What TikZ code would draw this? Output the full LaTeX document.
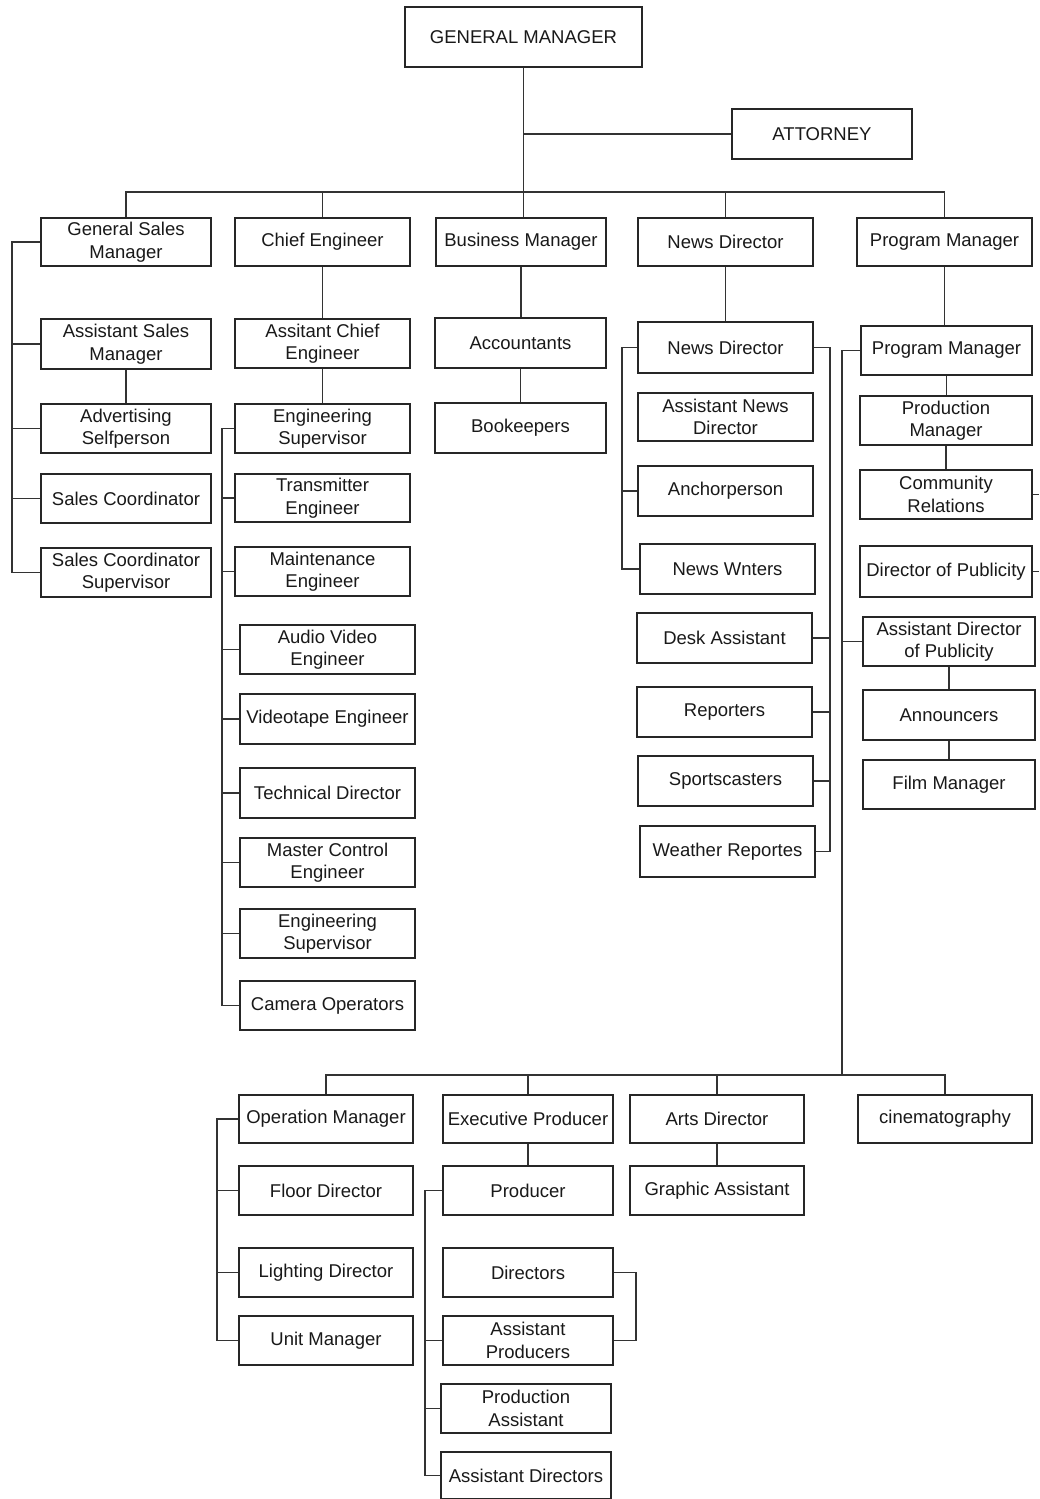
\documentclass[tikz,border=0pt]{standalone}
\usepackage{fontspec}
\setmainfont{Liberation Sans}
\begin{document}
\begin{tikzpicture}[x=1pt,y=-1pt,
  box/.style={draw=black!85, line width=1.8pt, fill=white, align=center, inner sep=0pt,
    font=\fontsize{18.5}{22.5}\selectfont, text=black!90},
  ln/.style={draw=black!80, line width=1.8pt}]
\useasboundingbox[fill=white] (0,0) rectangle (1039,1499);
% top
\node[box,minimum width=237,minimum height=60] (gm) at (523.5,37) {GENERAL MANAGER};
\node[box,minimum width=180,minimum height=50] (att) at (822,134) {ATTORNEY};
% row 1
\node[box,minimum width=170,minimum height=48] (gsm) at (126,242) {General Sales\\Manager};
\node[box,minimum width=175,minimum height=48] (ce) at (322.5,242) {Chief Engineer};
\node[box,minimum width=170,minimum height=48] (bm) at (521,242) {Business Manager};
\node[box,minimum width=175,minimum height=48] (nd1) at (725.5,242) {News Director};
\node[box,minimum width=175,minimum height=48] (pm1) at (944.5,242) {Program Manager};
% sales
\node[box,minimum width=170,minimum height=50] (asm) at (126,344) {Assistant Sales\\Manager};
\node[box,minimum width=170,minimum height=49] (adv) at (126,428.5) {Advertising\\Selfperson};
\node[box,minimum width=170,minimum height=49] (sc) at (126,498.5) {Sales Coordinator};
\node[box,minimum width=170,minimum height=49] (scs) at (126,572.5) {Sales Coordinator\\Supervisor};
% engineering
\node[box,minimum width=175,minimum height=49] (ace) at (322.5,343.5) {Assitant Chief\\Engineer};
\node[box,minimum width=175,minimum height=49] (es1) at (322.5,428.5) {Engineering\\Supervisor};
\node[box,minimum width=175,minimum height=48] (te) at (322.5,498) {Transmitter\\Engineer};
\node[box,minimum width=175,minimum height=49] (me) at (322.5,571.5) {Maintenance\\Engineer};
\node[box,minimum width=175,minimum height=49] (ave) at (327.5,649.5) {Audio Video\\Engineer};
\node[box,minimum width=175,minimum height=50] (vte) at (327.5,719) {Videotape Engineer};
\node[box,minimum width=175,minimum height=50] (td) at (327.5,793) {Technical Director};
\node[box,minimum width=175,minimum height=49] (mce) at (327.5,862.5) {Master Control\\Engineer};
\node[box,minimum width=175,minimum height=49] (es2) at (327.5,933.5) {Engineering\\Supervisor};
\node[box,minimum width=175,minimum height=49] (co) at (327.5,1005.5) {Camera Operators};
% business
\node[box,minimum width=171,minimum height=50] (acc) at (520.5,343) {Accountants};
\node[box,minimum width=171,minimum height=50] (bk) at (520.5,428) {Bookeepers};
% news
\node[box,minimum width=175,minimum height=51] (nd2) at (725.5,347.5) {News Director};
\node[box,minimum width=175,minimum height=48] (and) at (725.5,417) {Assistant News\\Director};
\node[box,minimum width=175,minimum height=50] (anc) at (725.5,491) {Anchorperson};
\node[box,minimum width=175,minimum height=50] (nw) at (727.5,569) {News Wnters};
\node[box,minimum width=175,minimum height=50] (da) at (724.5,638) {Desk Assistant};
\node[box,minimum width=175,minimum height=50] (rep) at (724.5,712) {Reporters};
\node[box,minimum width=175,minimum height=50] (spc) at (725.5,781) {Sportscasters};
\node[box,minimum width=175,minimum height=51] (wr) at (727.5,851.5) {Weather Reportes};
% program
\node[box,minimum width=171,minimum height=49] (pm2) at (946.5,350.5) {Program Manager};
\node[box,minimum width=172,minimum height=49] (prm) at (946,420.5) {Production\\Manager};
\node[box,minimum width=172,minimum height=49] (cr) at (946,494.5) {Community\\Relations};
\node[box,minimum width=172,minimum height=51] (dp) at (946,571.5) {Director of Publicity};
\node[box,minimum width=172,minimum height=49] (adp) at (949,641.5) {Assistant Director\\of Publicity};
\node[box,minimum width=172,minimum height=50] (ann) at (949,715) {Announcers};
\node[box,minimum width=172,minimum height=49] (fm) at (949,784.5) {Film Manager};
% bottom
\node[box,minimum width=174,minimum height=48] (om) at (326,1119) {Operation Manager};
\node[box,minimum width=170,minimum height=48] (ep) at (528,1119) {Executive Producer};
\node[box,minimum width=174,minimum height=48] (ad) at (717,1119) {Arts Director};
\node[box,minimum width=174,minimum height=48] (cin) at (945,1119) {cinematography};
\node[box,minimum width=174,minimum height=49] (fd) at (326,1190.5) {Floor Director};
\node[box,minimum width=174,minimum height=49] (ld) at (326,1272.5) {Lighting Director};
\node[box,minimum width=174,minimum height=49] (um) at (326,1340.5) {Unit Manager};
\node[box,minimum width=170,minimum height=49] (pr) at (528,1190.5) {Producer};
\node[box,minimum width=170,minimum height=49] (dir) at (528,1272.5) {Directors};
\node[box,minimum width=170,minimum height=49] (ap) at (528,1340.5) {Assistant\\Producers};
\node[box,minimum width=170,minimum height=49] (pa) at (526,1408.5) {Production\\Assistant};
\node[box,minimum width=170,minimum height=47] (adr) at (526,1475.5) {Assistant Directors};
\node[box,minimum width=174,minimum height=49] (ga) at (717,1190.5) {Graphic Assistant};
% coordinates
\coordinate (tb) at (523,192);
\coordinate (sL) at (12,0);
\coordinate (eL) at (222,0);
\coordinate (nL) at (622,0);
\coordinate (nR) at (830,0);
\coordinate (bb) at (842,1075);
\coordinate (re) at (1039,0);
\coordinate (oL) at (217,0);
\coordinate (pL) at (425,0);
\coordinate (dR) at (636,0);
% top connectors
\draw[ln] (gm.south) -- (gm.south |- bm.north);
\draw[ln] (gm.south |- att.west) -- (att.west);
\draw[ln] (gsm.north) -- (gsm.north |- tb) -- (pm1.north |- tb) -- (pm1.north);
\draw[ln] (ce.north) -- (ce.north |- tb);
\draw[ln] (nd1.north) -- (nd1.north |- tb);
% vertical chains
\draw[ln] (ce.south) -- (ace.north);
\draw[ln] (ace.south) -- (es1.north);
\draw[ln] (bm.south) -- (bm.south |- acc.north);
\draw[ln] (acc.south) -- (bk.north);
\draw[ln] (nd1.south) -- (nd2.north);
\draw[ln] (pm1.south) -- (pm1.south |- pm2.north);
\draw[ln] (pm2.south) -- (pm2.south |- prm.north);
\draw[ln] (prm.south) -- (cr.north);
\draw[ln] (adp.south) -- (ann.north);
\draw[ln] (ann.south) -- (fm.north);
\draw[ln] (asm.south) -- (adv.north);
\draw[ln] (ep.south) -- (pr.north);
\draw[ln] (ad.south) -- (ga.north);
% sales bracket
\draw[ln] (gsm.west) -- (gsm.west -| sL) -- (scs.west -| sL) -- (scs.west);
\foreach \n in {asm,adv,sc} \draw[ln] (\n.west) -- (\n.west -| sL);
% engineering bracket
\draw[ln] (es1.west) -- (es1.west -| eL) -- (co.west -| eL) -- (co.west);
\foreach \n in {te,me,ave,vte,td,mce,es2} \draw[ln] (\n.west) -- (\n.west -| eL);
% news brackets
\draw[ln] (nd2.west) -- (nd2.west -| nL) -- (nw.west -| nL) -- (nw.west);
\draw[ln] (anc.west) -- (anc.west -| nL);
\draw[ln] (nd2.east) -- (nd2.east -| nR) -- (wr.east -| nR) -- (wr.east);
\foreach \n in {da,rep,spc} \draw[ln] (\n.east) -- (\n.east -| nR);
% program bracket and bottom bus
\draw[ln] (pm2.west) -- (pm2.west -| bb) -- (bb);
\draw[ln] (adp.west) -- (adp.west -| bb);
\draw[ln] (cr.east) -- (cr.east -| re);
\draw[ln] (dp.east) -- (dp.east -| re);
\draw[ln] (om.north) -- (om.north |- bb) -- (cin.north |- bb) -- (cin.north);
\draw[ln] (ep.north) -- (ep.north |- bb);
\draw[ln] (ad.north) -- (ad.north |- bb);
% operation bracket
\draw[ln] (om.west) -- (om.west -| oL) -- (um.west -| oL) -- (um.west);
\foreach \n in {fd,ld} \draw[ln] (\n.west) -- (\n.west -| oL);
% producer bracket
\draw[ln] (pr.west) -- (pr.west -| pL) -- (adr.west -| pL) -- (adr.west);
\foreach \n in {ap,pa} \draw[ln] (\n.west) -- (\n.west -| pL);
\draw[ln] (dir.east) -- (dir.east -| dR) -- (ap.east -| dR) -- (ap.east);
\end{tikzpicture}
\end{document}
